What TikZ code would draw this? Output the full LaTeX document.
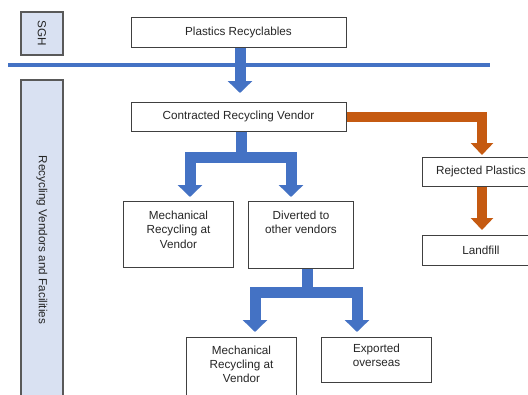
\documentclass[tikz,border=0pt]{standalone}
\usepackage{fontspec}
\setmainfont{Liberation Sans}
\usetikzlibrary{arrows.meta}
\definecolor{bblue}{HTML}{4472C4}
\definecolor{borange}{HTML}{C55A11}
\definecolor{lblue}{HTML}{D9E1F2}
\newcommand\tbox[4]{\parbox[t][#1][t]{#2}{\centering\rule{0pt}{#3}#4}}
\begin{document}
\begin{tikzpicture}[x=1pt,y=-1pt,
  every node/.style={font=\fontsize{11.7}{14.3}\selectfont, text=black!85},
  box/.style={draw=black!75, line width=1pt, fill=white, inner sep=0pt},
  side/.style={draw=black!65, line width=1.5pt, fill=lblue, inner sep=0pt, rotate=-90},
  bar/.style={line width=11pt, draw=bblue, line join=miter, -{Triangle[width=24pt,length=12pt]}},
  obar/.style={line width=10pt, draw=borange, line join=miter, -{Triangle[width=22pt,length=12pt]}}]
\useasboundingbox (0,0) rectangle (528,394);
\clip (0,0) rectangle (528,394);
% side labels
\node[side, minimum width=43, minimum height=42] (sgh) at (42,33.5) {SGH};
\node[side, minimum width=320, minimum height=42] (rvf) at (42,240) {Recycling Vendors and Facilities};
% separator
\coordinate (sepL) at (8,65);
\coordinate (sepR) at (490,65);
\draw[bblue, line width=4pt] (sepL) -- (sepR);
% boxes
\node[box, minimum width=215, minimum height=30] (plast) at (238.5,32) {Plastics Recyclables};
\node[box, minimum width=215, minimum height=29] (crv) at (238.5,116.5) {Contracted Recycling Vendor};
\node[box, minimum width=118, minimum height=29] (rej) at (481,171.5) {Rejected Plastics};
\node[box, minimum width=118, minimum height=30] (land) at (481,250) {Landfill};
\node[box, anchor=north west] (m1) at (123,201) {\tbox{66pt}{110pt}{18pt}{Mechanical\\Recycling at\\Vendor}};
\node[box, anchor=north west] (div) at (248,201) {\tbox{67pt}{105pt}{18pt}{Diverted to\\other vendors}};
\node[box, anchor=north west] (m2) at (186,337) {\tbox{70pt}{110pt}{16.5pt}{Mechanical\\Recycling at\\Vendor}};
\node[box, anchor=north west] (exp) at (321,337) {\tbox{45pt}{110pt}{15pt}{Exported\\overseas}};
% blue flows
\coordinate (a1) at (240,93);
\draw[bar] (plast.south -| a1) -- (a1);
\coordinate (j1) at (241,157);
\coordinate (t1l) at (190,197);
\coordinate (t1r) at (291,197);
\draw[bar] (crv.south -| j1) -- (j1) -| (t1l);
\draw[bar] (crv.south -| j1) -- (j1) -| (t1r);
\coordinate (j2) at (307,292);
\coordinate (t2l) at (255,332);
\coordinate (t2r) at (357,332);
\draw[bar] (div.south -| j2) -- (j2) -| (t2l);
\draw[bar] (div.south -| j2) -- (j2) -| (t2r);
% orange flows
\coordinate (o1) at (482,155);
\coordinate (o2) at (482,230);
\draw[obar] (crv.east) -| (o1);
\draw[obar] (rej.south -| o2) -- (o2);
\end{tikzpicture}
\end{document}
